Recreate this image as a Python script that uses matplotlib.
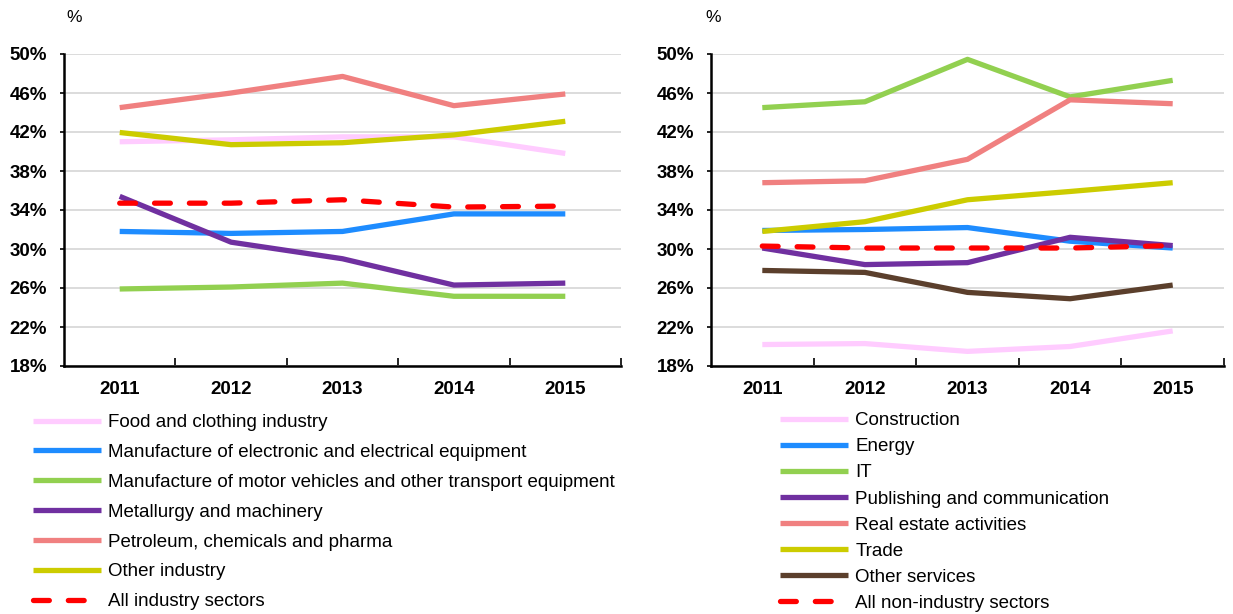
import numpy as np
import matplotlib
matplotlib.use("Agg")
import matplotlib.pyplot as plt
from matplotlib.ticker import FuncFormatter

plt.rcParams['font.family'] = ['Liberation Sans', 'DejaVu Sans']

years = ['2011', '2012', '2013', '2014', '2015']

# left panel: industry
food_clothing = [41.0, 41.2, 41.5, 41.5, 39.8]
electronic = [31.8, 31.6, 31.8, 33.6, 33.6]
motor_vehicles = [25.9, 26.1, 26.5, 25.15, 25.15]
metallurgy = [35.4, 30.7, 29.0, 26.3, 26.5]
petroleum = [44.5, 46.0, 47.7, 44.7, 45.9]
other_industry = [41.95, 40.7, 40.9, 41.7, 43.1]
all_industry = [34.7, 34.7, 35.05, 34.3, 34.4]

# right panel: non-industry
construction = [20.2, 20.3, 19.5, 20.0, 21.6]
energy = [31.9, 32.0, 32.2, 30.8, 30.1]
it = [44.5, 45.1, 49.45, 45.6, 47.3]
publishing = [30.1, 28.4, 28.6, 31.2, 30.35]
real_estate = [36.8, 37.0, 39.2, 45.3, 44.9]
trade = [31.8, 32.8, 35.05, 35.9, 36.8]
other_services = [27.8, 27.6, 25.55, 24.9, 26.3]
all_non_industry = [30.3, 30.1, 30.1, 30.1, 30.35]

PINK = '#FFCCFF'
BLUE = '#1E8CFF'
GREEN = '#92D050'
PURPLE = '#7030A0'
SALMON = '#F08080'
OLIVE = '#CCCC00'
BROWN = '#5B3F2C'
RED = '#FF0000'

left_series = [
    ('Food and clothing industry', food_clothing, PINK, '-'),
    ('Manufacture of electronic and electrical equipment', electronic, BLUE, '-'),
    ('Manufacture of motor vehicles and other transport equipment', motor_vehicles, GREEN, '-'),
    ('Metallurgy and machinery', metallurgy, PURPLE, '-'),
    ('Petroleum, chemicals and pharma', petroleum, SALMON, '-'),
    ('Other industry', other_industry, OLIVE, '-'),
    ('All industry sectors', all_industry, RED, '--'),
]
right_series = [
    ('Construction', construction, PINK, '-'),
    ('Energy', energy, BLUE, '-'),
    ('IT', it, GREEN, '-'),
    ('Publishing and communication', publishing, PURPLE, '-'),
    ('Real estate activities', real_estate, SALMON, '-'),
    ('Trade', trade, OLIVE, '-'),
    ('Other services', other_services, BROWN, '-'),
    ('All non-industry sectors', all_non_industry, RED, '--'),
]

W, H = 1233, 614
fig = plt.figure(figsize=(W / 100, H / 100), dpi=100)


def px_axes(x0, x1, y0, y1):
    return fig.add_axes([x0 / W, 1 - y1 / H, (x1 - x0) / W, (y1 - y0) / H])


def draw_panel(ax, series, pct_x):
    x = np.arange(len(years))
    for label, vals, col, ls in series:
        if ls == '--':
            ax.plot(x, vals, color=col, lw=3.8, dashes=(3.0, 3.6),
                    dash_capstyle='round', label=label, zorder=4)
        else:
            ax.plot(x, vals, color=col, lw=3.8, solid_capstyle='butt',
                    label=label, zorder=3)
    ax.set_xlim(-0.5, len(years) - 0.5)
    ax.set_ylim(18, 50)
    ax.set_yticks(np.arange(18, 51, 4))
    ax.yaxis.set_major_formatter(FuncFormatter(lambda v, p: f'{v:.0f}%'))
    ax.set_xticks(x)
    ax.set_xticklabels(years)
    ax.set_xticks(np.arange(0.5, len(years), 1), minor=True)
    ax.tick_params(axis='x', which='major', length=0, pad=11)
    ax.tick_params(axis='x', which='minor', direction='in', length=6, width=1.2)
    ax.tick_params(axis='y', length=3, width=1.2, pad=9)
    for lab in ax.get_xticklabels() + ax.get_yticklabels():
        lab.set_fontweight('bold')
        lab.set_fontsize(13.5)
    ax.grid(axis='y', color='#D9D9D9', lw=1.3, zorder=0)
    ax.set_axisbelow(True)
    for s in ('top', 'right'):
        ax.spines[s].set_visible(False)
    for s in ('left', 'bottom'):
        ax.spines[s].set_linewidth(1.8)
        ax.spines[s].set_color('black')
    fig.text(pct_x / W, 1 - 18 / H, '%', fontsize=12.5, ha='center', va='center')


ax1 = px_axes(64, 621, 54, 366)
ax2 = px_axes(711, 1224, 54, 366)
draw_panel(ax1, left_series, 74)
draw_panel(ax2, right_series, 713)

ax1.legend(loc='upper left', bbox_to_anchor=(33 / W, 1 - 414 / H),
           bbox_transform=fig.transFigure, frameon=False, fontsize=13.5,
           handlelength=3.6, handletextpad=0.42, labelspacing=0.68,
           borderaxespad=0, borderpad=0)
ax2.legend(loc='upper left', bbox_to_anchor=(780 / W, 1 - 412 / H),
           bbox_transform=fig.transFigure, frameon=False, fontsize=13.5,
           handlelength=3.6, handletextpad=0.42, labelspacing=0.48,
           borderaxespad=0, borderpad=0)

fig.savefig('out.png', dpi=100)
